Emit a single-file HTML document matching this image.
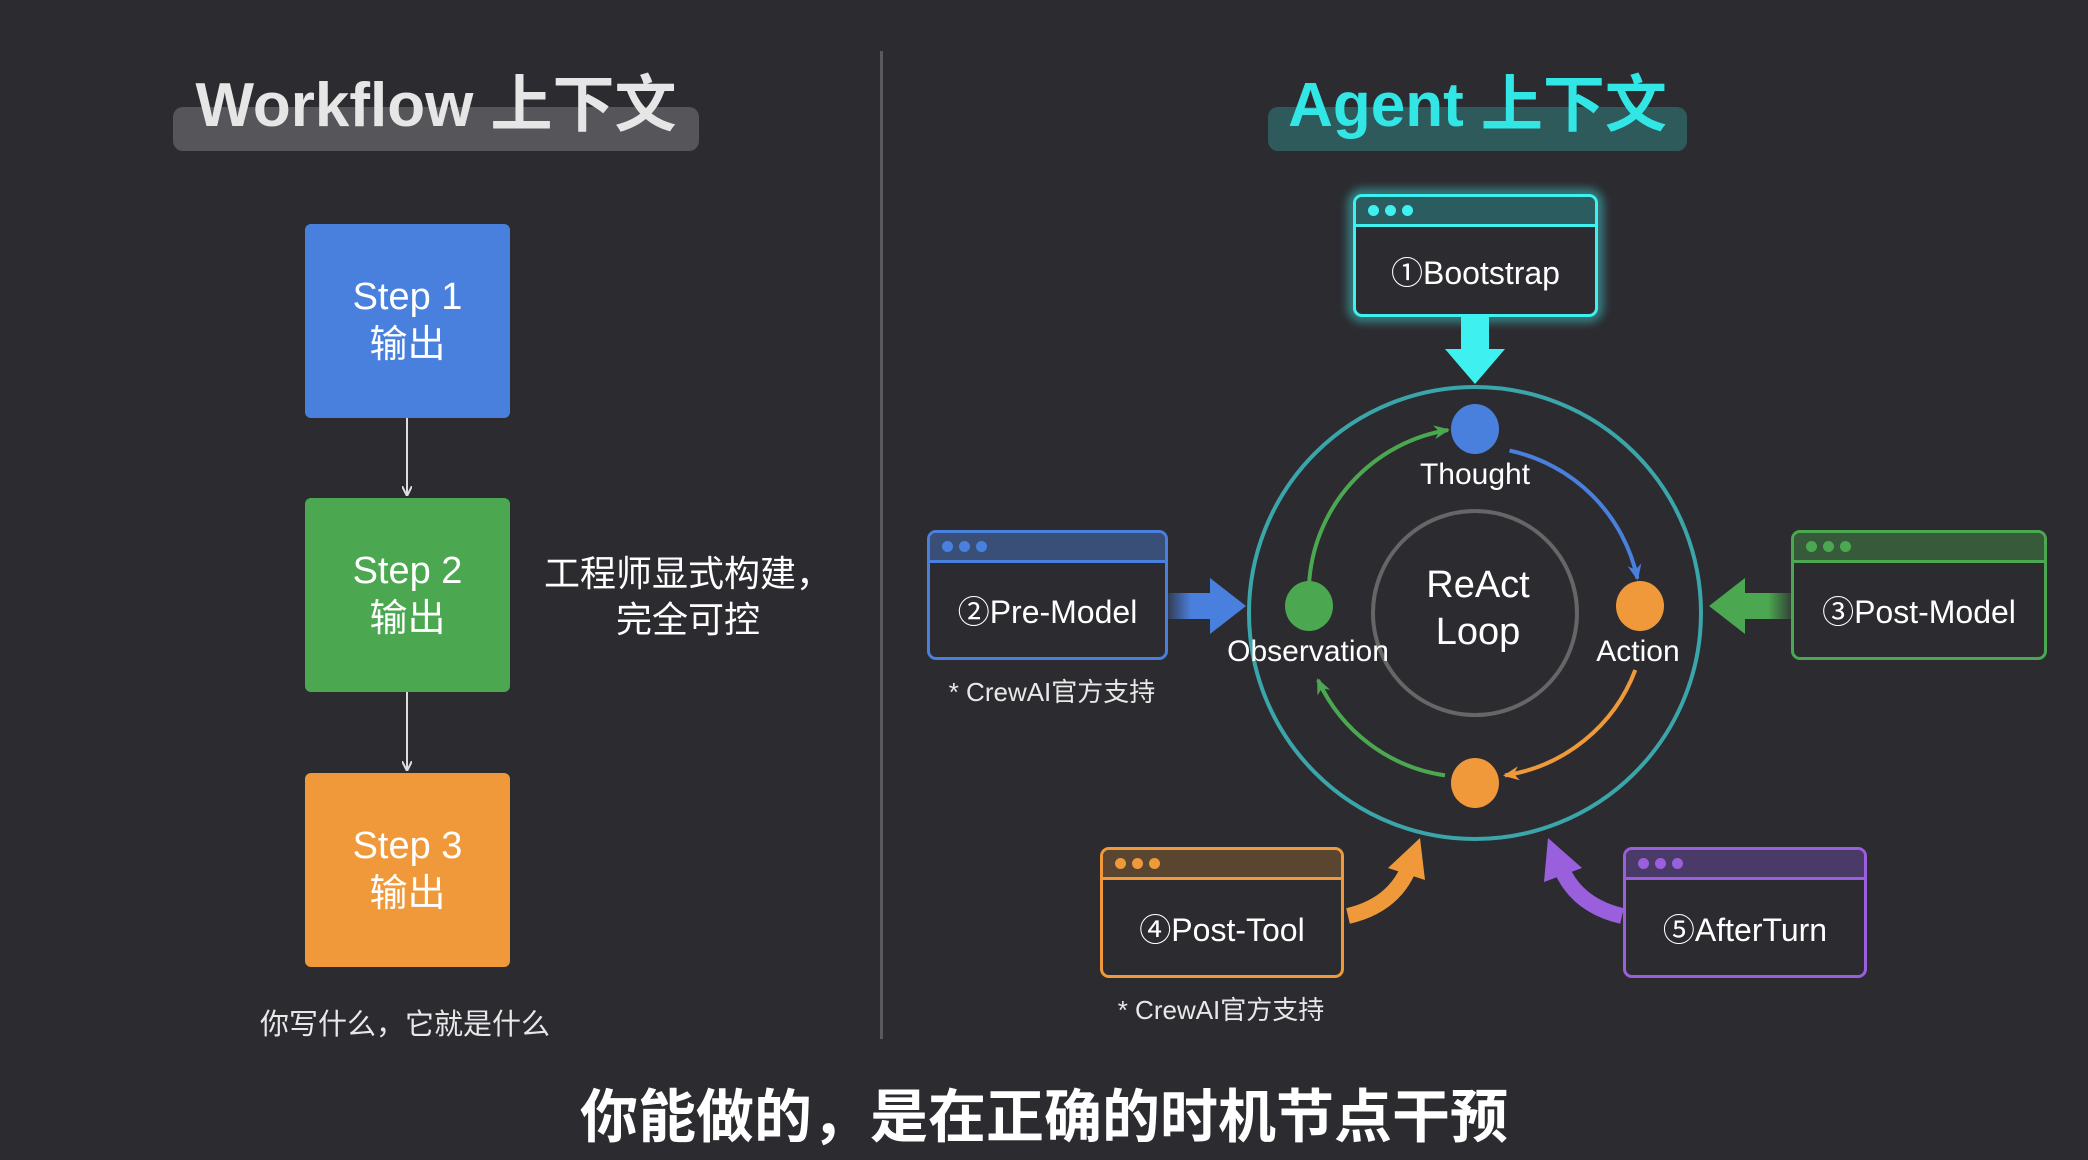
<!DOCTYPE html>
<html><head><meta charset="utf-8">
<style>
html,body{margin:0;padding:0;}
body{width:2088px;height:1160px;background:#2c2b30;position:relative;overflow:hidden;font-family:"Liberation Sans","Noto Sans CJK SC",sans-serif;color:#fff;}
.abs{position:absolute;}
.pill{position:absolute;border-radius:10px;}
.title{position:absolute;font-size:62px;font-weight:bold;text-align:center;white-space:nowrap;}
.step{position:absolute;left:305px;width:205px;height:194px;border-radius:6px;display:flex;flex-direction:column;align-items:center;justify-content:center;font-size:38px;line-height:48px;color:#fff;}
.win{position:absolute;border:3px solid;border-radius:9px;box-sizing:border-box;background:#2c2b30;}
.win .hd{position:absolute;left:0;right:0;top:0;height:27px;border-bottom:3px solid;border-radius:6px 6px 0 0;}
.win .hd i{position:absolute;top:8px;width:11px;height:11px;border-radius:50%;}
.win .tx{position:absolute;left:0;right:0;top:30px;bottom:0;display:flex;align-items:center;justify-content:center;font-size:32px;white-space:nowrap;}
.note{position:absolute;font-size:26px;color:#e8e8e8;white-space:nowrap;transform:translateX(-50%);}
</style></head><body>
<div class="abs" style="left:880px;top:51px;width:3px;height:988px;background:#5a5a5e"></div>

<div class="pill" style="left:173px;top:107px;width:526px;height:44px;background:#55555a"></div>
<div class="title" style="left:173px;width:526px;top:54px;color:#e6e6e6">Workflow 上下文</div>
<div class="pill" style="left:1268px;top:107px;width:419px;height:44px;background:#2f5a5c"></div>
<div class="title" style="left:1268px;width:419px;top:54px;color:#33e6e6">Agent 上下文</div>

<div class="step" style="top:224px;background:#4a80dd"><div>Step 1</div><div>输出</div></div>
<div class="step" style="top:498px;background:#4ca850"><div>Step 2</div><div>输出</div></div>
<div class="step" style="top:773px;background:#ef993a"><div>Step 3</div><div>输出</div></div>

<svg class="abs" style="left:0;top:0" width="2088" height="1160">
<defs>
<marker id="wa" markerWidth="10" markerHeight="10" refX="8" refY="5" orient="auto" markerUnits="userSpaceOnUse"><path d="M0,0 L10,5 L0,10" fill="none" stroke="#ddd" stroke-width="2"/></marker>
<marker id="mb" markerWidth="18" markerHeight="18" refX="14" refY="9" orient="auto" markerUnits="userSpaceOnUse"><path d="M0,2 L16,9 L0,16 L5,9z" fill="#4a80dd"/></marker>
<marker id="mo" markerWidth="18" markerHeight="18" refX="14" refY="9" orient="auto" markerUnits="userSpaceOnUse"><path d="M0,2 L16,9 L0,16 L5,9z" fill="#ef993a"/></marker>
<marker id="mg" markerWidth="18" markerHeight="18" refX="14" refY="9" orient="auto" markerUnits="userSpaceOnUse"><path d="M0,2 L16,9 L0,16 L5,9z" fill="#4ca850"/></marker>
<linearGradient id="gb" x1="0" x2="1"><stop offset="0" stop-color="#4a80dd" stop-opacity="0.2"/><stop offset="0.5" stop-color="#4a80dd"/></linearGradient>
<linearGradient id="gg" x1="1" x2="0"><stop offset="0" stop-color="#4ca850" stop-opacity="0.2"/><stop offset="0.5" stop-color="#4ca850"/></linearGradient>
<filter id="glow"><feGaussianBlur stdDeviation="5"/></filter>
</defs>
<line x1="407" y1="418" x2="407" y2="494" stroke="#ddd" stroke-width="2" marker-end="url(#wa)"/>
<line x1="407" y1="692" x2="407" y2="769" stroke="#ddd" stroke-width="2" marker-end="url(#wa)"/>

<circle cx="1475" cy="613" r="226" fill="none" stroke="#3aa6aa" stroke-width="4"/>
<circle cx="1475" cy="613" r="102" fill="none" stroke="#666" stroke-width="4"/>
<path d="M1509.5,450.6 A166,166 0 0 1 1637.4,578.5" fill="none" stroke="#4a80dd" stroke-width="4" marker-end="url(#mb)"/>
<path d="M1635.3,670 A166,166 0 0 1 1505,775.4" fill="none" stroke="#ef993a" stroke-width="4" marker-end="url(#mo)"/>
<path d="M1445,775.4 A166,166 0 0 1 1318,680" fill="none" stroke="#4ca850" stroke-width="4" marker-end="url(#mg)"/>
<path d="M1309,585 A166,166 0 0 1 1448,430" fill="none" stroke="#4ca850" stroke-width="4" marker-end="url(#mg)"/>
<ellipse cx="1475" cy="429" rx="24" ry="25" fill="#4a80dd"/>
<ellipse cx="1309" cy="606" rx="24" ry="25" fill="#4ca850"/>
<ellipse cx="1640" cy="606" rx="24" ry="25" fill="#ef993a"/>
<ellipse cx="1475" cy="783" rx="24" ry="25" fill="#ef993a"/>

<rect x="1461" y="317" width="28" height="34" fill="#3ff0f0"/>
<polygon points="1445,349 1505,349 1475,384" fill="#3ff0f0"/>
<rect x="1168" y="593" width="46" height="26" fill="url(#gb)"/>
<polygon points="1210,578 1246,606 1210,634" fill="#4a80dd"/>
<rect x="1745" y="593" width="46" height="26" fill="url(#gg)"/>
<polygon points="1745,578 1709,606 1745,634" fill="#4ca850"/>
<path d="M1348,916 Q1395,905 1410,865" fill="none" stroke="#ef993a" stroke-width="16"/>
<polygon points="1388,868 1420,838 1425,880" fill="#ef993a"/>
<path d="M1622,916 Q1575,905 1560,865" fill="none" stroke="#9a5fdc" stroke-width="16"/>
<polygon points="1582,868 1548,838 1544,882" fill="#9a5fdc"/>
<rect x="1353" y="194" width="245" height="123" rx="9" fill="none" stroke="#3ff0f0" stroke-width="8" opacity="0.6" filter="url(#glow)"/>
</svg>

<div class="abs" style="left:1375px;width:200px;top:458px;text-align:center;font-size:30px">Thought</div>
<div class="abs" style="left:1208px;width:200px;top:635px;text-align:center;font-size:30px">Observation</div>
<div class="abs" style="left:1538px;width:200px;top:635px;text-align:center;font-size:30px">Action</div>
<div class="abs" style="left:1378px;width:200px;top:562px;text-align:center;font-size:38px;line-height:47px">ReAct<br>Loop</div>

<div class="win" style="left:1353px;top:194px;width:245px;height:123px;border-color:#3ff0f0">
<div class="hd" style="background:#2b5c60;border-color:#3ff0f0"><i style="left:12px;background:#3ff0f0"></i><i style="left:29px;background:#3ff0f0"></i><i style="left:46px;background:#3ff0f0"></i></div>
<div class="tx">①Bootstrap</div></div>

<div class="win" style="left:927px;top:530px;width:241px;height:130px;border-color:#4a80dd">
<div class="hd" style="background:#3a4f78;border-color:#4a80dd"><i style="left:12px;background:#4a80dd"></i><i style="left:29px;background:#4a80dd"></i><i style="left:46px;background:#4a80dd"></i></div>
<div class="tx">②Pre-Model</div></div>
<div class="note" style="left:1052px;top:672px">* CrewAI官方支持</div>

<div class="win" style="left:1791px;top:530px;width:256px;height:130px;border-color:#4ca850">
<div class="hd" style="background:#375a3a;border-color:#4ca850"><i style="left:12px;background:#4ca850"></i><i style="left:29px;background:#4ca850"></i><i style="left:46px;background:#4ca850"></i></div>
<div class="tx">③Post-Model</div></div>

<div class="win" style="left:1100px;top:847px;width:244px;height:131px;border-color:#ef993a">
<div class="hd" style="background:#5a4630;border-color:#ef993a"><i style="left:12px;background:#ef993a"></i><i style="left:29px;background:#ef993a"></i><i style="left:46px;background:#ef993a"></i></div>
<div class="tx">④Post-Tool</div></div>
<div class="note" style="left:1221px;top:990px">* CrewAI官方支持</div>

<div class="win" style="left:1623px;top:847px;width:244px;height:131px;border-color:#9a5fdc">
<div class="hd" style="background:#4a3a68;border-color:#9a5fdc"><i style="left:12px;background:#9a5fdc"></i><i style="left:29px;background:#9a5fdc"></i><i style="left:46px;background:#9a5fdc"></i></div>
<div class="tx">⑤AfterTurn</div></div>

<div class="abs" style="left:538px;width:300px;top:551px;text-align:center;font-size:36px;line-height:46px">工程师显式构建，<br>完全可控</div>
<div class="abs" style="left:205px;width:400px;top:1001px;text-align:center;font-size:29px;color:#e8e8e8">你写什么，它就是什么</div>
<div class="abs" style="left:444px;width:1200px;top:1070px;text-align:center;font-size:58px;font-weight:bold">你能做的，是在正确的时机节点干预</div>
</body></html>
